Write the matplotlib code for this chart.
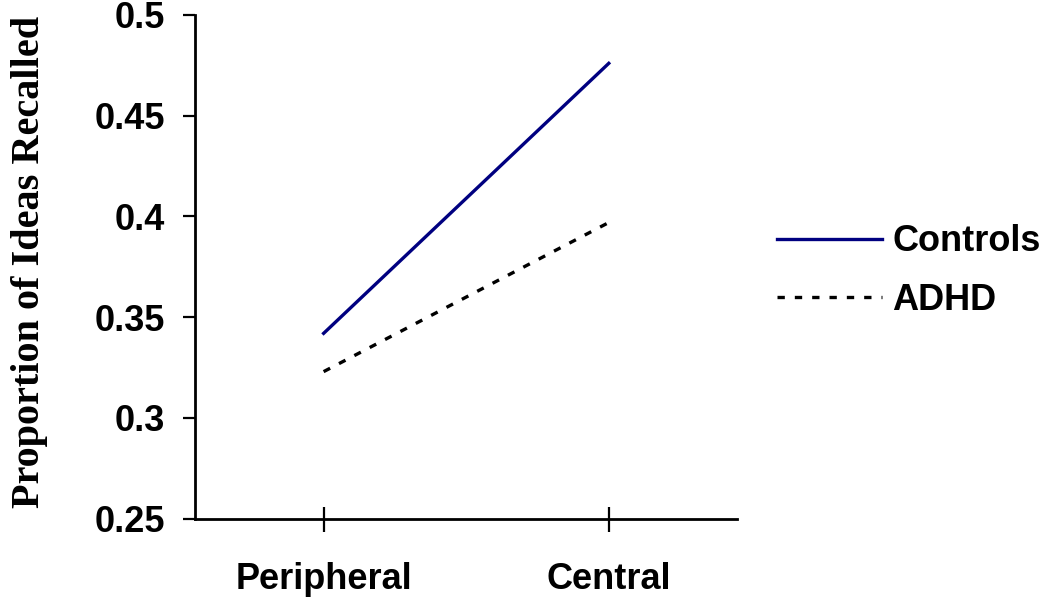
import matplotlib.pyplot as plt

conditions = ['Peripheral', 'Central']
controls = [0.342, 0.476]
adhd = [0.323, 0.397]
y_ticks = [0.25, 0.3, 0.35, 0.4, 0.45, 0.5]
y_tick_labels = ['0.25', '0.3', '0.35', '0.4', '0.45', '0.5']

plt.rcParams['font.family'] = ['Liberation Sans', 'DejaVu Sans']

fig = plt.figure(figsize=(10.5, 5.99), dpi=100)
ax = fig.add_axes([0.186, 0.134, 0.516, 0.841])

x = range(len(conditions))
ax.plot(x, controls, color='#000080', linewidth=2.4, label='Controls')
ax.plot(x, adhd, color='black', linewidth=2.4, linestyle=(0, (2.2, 3)), label='ADHD')

ax.set_xlim(-0.45, 1.45)
ax.set_ylim(0.25, 0.5)
ax.set_xticks(list(x))
ax.set_xticklabels(conditions, fontsize=26, fontweight='bold')
ax.set_yticks(y_ticks)
ax.set_yticklabels(y_tick_labels, fontsize=26, fontweight='bold')
ax.tick_params(axis='y', direction='out', length=9, width=1.6, pad=13)
ax.tick_params(axis='x', direction='inout', length=18, width=1.6, pad=22)

for side in ['top', 'right']:
    ax.spines[side].set_visible(False)
for side in ['left', 'bottom']:
    ax.spines[side].set_linewidth(2)

ax.set_ylabel('Proportion of Ideas Recalled', fontsize=29, fontweight='bold',
              family='Liberation Serif')
ax.yaxis.set_label_coords(-0.271, 0.51)

fig.legend(*ax.get_legend_handles_labels(), loc='center left',
           bbox_to_anchor=(0.723, 0.5476), frameon=False, borderpad=0,
           prop={'size': 26, 'weight': 'bold'}, handlelength=2.9,
           handletextpad=0.28, labelspacing=0.64)

fig.savefig('out.png', dpi=100)
